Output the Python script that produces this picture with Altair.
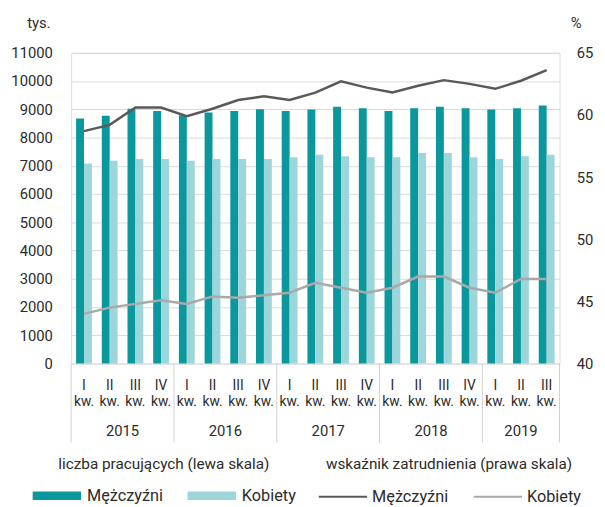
import altair as alt
import pandas as pd

years = ["2015"] * 4 + ["2016"] * 4 + ["2017"] * 4 + ["2018"] * 4 + ["2019"] * 3
quarters = ["I", "II", "III", "IV"] * 4 + ["I", "II", "III"]
series_names = ["Mężczyźni", "Kobiety"]

# liczba pracujących (tys.) - lewa skala
men_emp = [8670, 8775, 9020, 8940, 8790, 8890, 8940, 9000, 8940, 8990,
           9090, 9040, 8940, 9040, 9090, 9040, 8990, 9040, 9135]
women_emp = [7080, 7180, 7240, 7240, 7180, 7240, 7240, 7240, 7300, 7390,
             7340, 7300, 7300, 7450, 7450, 7300, 7240, 7340, 7390]

# wskaźnik zatrudnienia (%) - prawa skala
men_rate = [58.7, 59.2, 60.6, 60.6, 59.9, 60.5, 61.2, 61.5, 61.2, 61.8,
            62.7, 62.2, 61.8, 62.35, 62.8, 62.5, 62.1, 62.75, 63.6]
women_rate = [44.0, 44.5, 44.8, 45.1, 44.8, 45.4, 45.3, 45.5, 45.7, 46.5,
              46.1, 45.7, 46.1, 47.0, 47.0, 46.1, 45.7, 46.8, 46.8]

left_ticks = list(range(0, 11001, 1000))
right_ticks = [40, 45, 50, 55, 60, 65]

cats = [f"{y}|{q}" for y, q in zip(years, quarters)]
n = len(cats)

bars_df = pd.DataFrame({
    "cat": cats * 2,
    "series": [series_names[0]] * n + [series_names[1]] * n,
    "value": men_emp + women_emp,
})
lines_df = pd.DataFrame({
    "cat": cats * 2,
    "series": [series_names[0]] * n + [series_names[1]] * n,
    "rate": men_rate + women_rate,
})
year_starts = pd.DataFrame({"cat": [c for c, q in zip(cats, quarters) if q == "I"]})
last_cat = pd.DataFrame({"cat": [cats[-1]]})
full_years = pd.DataFrame({"cat": [f"{y}|II" for y in ["2015", "2016", "2017", "2018"]],
                           "year": ["2015", "2016", "2017", "2018"]})
part_years = pd.DataFrame({"cat": ["2019|II"], "year": ["2019"]})

FONT = "Roboto"
TXT = "#2b2b2b"
W, H = 495, 315

x_axis = alt.Axis(
    title=None, labelExpr="[split(datum.value, '|')[1], 'kw.']",
    domain=False, ticks=False, grid=False, labelAngle=0,
    labelFontSize=14, labelColor=TXT, labelPadding=15, labelLineHeight=17,
    labelFont=FONT,
)
xscale = alt.Scale(paddingInner=0, paddingOuter=0)

def xenc(band=0.5):
    return alt.X("cat:N", sort=cats, scale=xscale, axis=x_axis, bandPosition=band)

legend_common = dict(
    orient="none", direction="horizontal", titleAnchor="middle",
    titleFontSize=15.5, titleFontWeight="normal", titleColor=TXT, titleFont=FONT,
    titlePadding=-1, titleLimit=400, labelLimit=200,
    labelFontSize=16.5, labelColor=TXT, labelFont=FONT,
)

bars = alt.Chart(bars_df).mark_bar().encode(
    x=alt.X("cat:N", sort=cats, scale=xscale, axis=x_axis),
    xOffset=alt.XOffset("series:N", sort=series_names,
                        scale=alt.Scale(paddingInner=0, paddingOuter=0.625)),
    y=alt.Y("value:Q", scale=alt.Scale(domain=[0, 11000]),
            axis=alt.Axis(orient="left", values=left_ticks, format="d",
                          title="tys.", titleAngle=0, titleX=-45, titleY=-31,
                          titleAlign="left", titleBaseline="middle",
                          titleFontSize=15, titleFontWeight="normal", titleColor=TXT,
                          titleFont=FONT,
                          grid=True, gridColor="#d9d9d9", domain=False, ticks=False,
                          labelPadding=19, labelFontSize=15, labelColor=TXT, labelFont=FONT)),
    color=alt.Color("series:N", sort=series_names,
                    scale=alt.Scale(domain=series_names, range=["#0a989d", "#9cd6da"]),
                    legend=alt.Legend(
                        title="liczba pracujących (lewa skala)",
                        legendX=-39, legendY=410,
                        labelOffset=6, columnPadding=24,
                        symbolType="M-1,-0.18H1V0.18H-1Z", symbolSize=2401,
                        symbolStrokeWidth=0, **legend_common)),
)

lines = alt.Chart(lines_df).mark_line(strokeWidth=2.5).encode(
    x=alt.X("cat:N", sort=cats, scale=xscale, axis=x_axis),
    y=alt.Y("rate:Q", scale=alt.Scale(domain=[40, 65]),
            axis=alt.Axis(orient="right", values=right_ticks,
                          title="%", titleAngle=0, titleX=11, titleY=-31,
                          titleAlign="left", titleBaseline="middle",
                          titleFontSize=15, titleFontWeight="normal", titleColor=TXT,
                          titleFont=FONT,
                          grid=False, domain=False, ticks=False,
                          labelPadding=17, labelFontSize=15, labelColor=TXT, labelFont=FONT)),
    color=alt.Color("series:N", sort=series_names,
                    scale=alt.Scale(domain=series_names, range=["#595959", "#a9a9a9"]),
                    legend=alt.Legend(
                        title="wskaźnik zatrudnienia (prawa skala)",
                        legendX=250, legendY=410,
                        labelOffset=4, columnPadding=21,
                        symbolType="stroke", symbolSize=2401, symbolStrokeWidth=2,
                        **legend_common)),
)

sep_style = dict(color="#d0d0d0", strokeWidth=1)
seps = alt.Chart(year_starts).mark_rule(**sep_style).encode(
    x=xenc(0), y=alt.value(H), y2=alt.value(H + 80))
sep_end = alt.Chart(last_cat).mark_rule(**sep_style).encode(
    x=xenc(1), y=alt.value(H), y2=alt.value(H + 80))

ytxt = dict(fontSize=15, color=TXT, font=FONT, baseline="middle", align="center")
year_full = alt.Chart(full_years).mark_text(**ytxt).encode(
    x=xenc(1), y=alt.value(H + 68), text="year:N")
year_part = alt.Chart(part_years).mark_text(**ytxt).encode(
    x=xenc(0.5), y=alt.value(H + 68), text="year:N")

chart = alt.layer(bars, lines, seps, sep_end, year_full, year_part).resolve_scale(
    y="independent", color="independent"
).properties(
    width=W, height=H,
    autosize=alt.AutoSizeParams(type="none"),
    padding={"left": 64, "top": 42, "right": 38, "bottom": 142},
).configure_view(strokeWidth=0).configure(background="white")

chart.save("out.html", embed_options={"renderer": "svg", "actions": False})
